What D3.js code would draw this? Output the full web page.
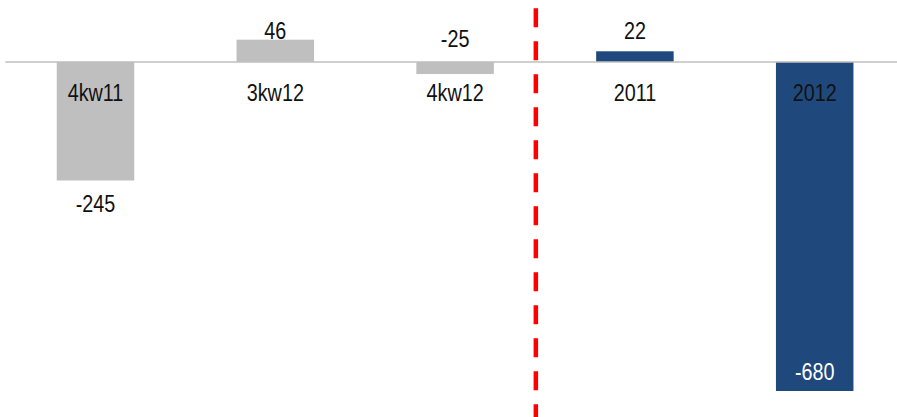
<!DOCTYPE html>
<html>
<head>
<meta charset="utf-8">
<script src="https://cdn.jsdelivr.net/npm/d3@7"></script>
<style>
  html, body { margin: 0; padding: 0; background: #fff; }
  svg { display: block; }
  text { font-family: "Liberation Sans", Arial, sans-serif; }
</style>
</head>
<body>
<div id="chart"></div>
<script>
// data
const categories = ["4kw11", "3kw12", "4kw12", "2011", "2012"]
const values = [-245, 46, -25, 22, -680]
const groups = ["quarter", "quarter", "quarter", "year", "year"]

const width = 897
const height = 417

const colors = { quarter: "#bfbfbf", year: "#1f497d" }

const svg = d3.select("#chart")
    .append("svg")
    .attr("width", width)
    .attr("height", height)

const x = d3.scaleBand()
    .domain(categories)
    .range([5.6, 904.6])
    .paddingInner(0.569)
    .paddingOuter(0.2845)

const y = d3.scaleLinear()
    .domain([-680, 128])
    .range([391, 0])

const rows = categories.map((c, i) => ({ cat: c, value: values[i], group: groups[i] }))

// bars
svg.append("g")
    .selectAll("rect")
    .data(rows)
    .join("rect")
    .attr("x", d => x(d.cat))
    .attr("width", x.bandwidth())
    .attr("y", d => y(Math.max(0, d.value)))
    .attr("height", d => Math.abs(y(d.value) - y(0)))
    .attr("fill", d => colors[d.group])

// zero line
svg.append("line")
    .attr("x1", 5.3)
    .attr("x2", width)
    .attr("y1", y(0))
    .attr("y2", y(0))
    .attr("stroke", "#bfbfbf")
    .attr("stroke-width", 1.5)

// separator between quarters and years
const sepX = x("4kw12") + x.bandwidth() + 42
svg.append("line")
    .attr("x1", sepX)
    .attr("x2", sepX)
    .attr("y1", 8.3)
    .attr("y2", height)
    .attr("stroke", "#ff0000")
    .attr("stroke-width", 4.5)
    .attr("stroke-dasharray", "19,14")

// narrow look: squeeze Liberation Sans horizontally
const squeeze = (cx, cy) => `translate(${cx},${cy}) scale(0.86,1)`

// category labels
svg.append("g")
    .selectAll("text")
    .data(rows)
    .join("text")
    .attr("transform", d => squeeze(x(d.cat) + x.bandwidth() / 2, y(0) + 39.5))
    .attr("text-anchor", "middle")
    .attr("font-size", 23)
    .attr("fill", "#111")
    .text(d => d.cat)

// value labels
function labelY(d) {
    const barH = Math.abs(y(d.value) - y(0))
    if (d.value >= 0) return Math.min(y(d.value) - 1, y(0) - 23)
    if (barH < 40) return y(0) - 15
    if (barH > 200) return y(d.value) - 11
    return y(d.value) + 32
}

svg.append("g")
    .selectAll("text")
    .data(rows)
    .join("text")
    .attr("transform", d => squeeze(x(d.cat) + x.bandwidth() / 2, labelY(d)))
    .attr("text-anchor", "middle")
    .attr("font-size", 23)
    .attr("fill", d => Math.abs(y(d.value) - y(0)) > 200 ? "#fff" : "#111")
    .text(d => d.value)
</script>
</body>
</html>
